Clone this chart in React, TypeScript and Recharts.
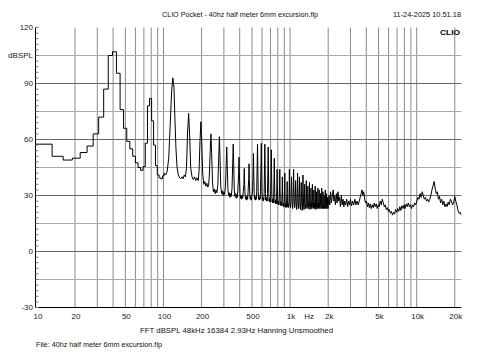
import React from 'react';
import { LineChart, Line, XAxis, YAxis, ReferenceLine } from 'recharts';

// FFT bin edges (Hz) and levels (dBSPL) for the stepped low end
const lowEdges = [9.75, 13.19, 16.12, 19.05, 21.98, 24.91, 27.84, 30.77, 33.7, 36.63, 39.56, 42.49, 45.42, 48.35, 51.28, 54.21, 57.14, 60.07, 63.0, 65.93, 68.86, 71.79, 74.72, 77.65, 80.58, 83.51, 86.44, 89.37, 92.3, 95.23, 98.16, 101.09];
const lowLevels = [57.5, 51, 49, 50, 53, 56.5, 63, 72, 87, 105, 107, 95.5, 76, 66, 59, 55, 51, 47.5, 45, 43.5, 45.5, 58, 78, 82, 70, 57, 46, 41, 39.5, 39, 40.5, 42];

// [Hz, dBSPL] 100 - 500 Hz, harmonics of ~39.5 Hz
const bandA = [
  [101.09, 42], [104, 41], [107, 43], [110, 50], [113, 68], [116, 86], [118.5, 93], [121, 88], [123, 72], [125.5, 55], [128, 45], [131, 41], [134, 39.5], [137, 39], [140, 40], [143, 39], [146, 41], [149, 40], [152, 45],
  [155, 64], [158, 74], [161, 62], [164, 45], [168, 40], [172, 38.5], [176, 40], [180, 38], [184, 39.5], [188, 38], [191, 43],
  [194.5, 60], [197.5, 69.5], [200.5, 59], [204, 42], [208, 36], [212, 37.5], [216, 35], [220, 36.5], [224, 34.5], [227, 35.5], [230, 40],
  [234, 54], [237, 63], [240, 53], [244, 37], [248, 32], [252, 33.5], [256, 31], [260, 33], [264, 31.5], [269, 36],
  [273.5, 52], [276.5, 61.5], [279.5, 51], [283.5, 35], [288, 31], [292, 32.5], [296, 30], [300, 32], [304, 30.5], [309, 35],
  [313, 47], [316, 56], [319, 46], [323, 33], [327, 30], [331, 31.5], [335, 29], [339, 31], [343, 29.5], [348, 34],
  [352.5, 48], [355.5, 57.5], [358.5, 47], [362.5, 33], [367, 29.5], [371, 31], [375, 28.5], [379, 30.5], [383, 29], [387, 33],
  [392, 41], [395, 50.5], [398, 41], [402, 31], [406, 28.5], [410, 30], [414, 28], [418, 30], [422, 28.5], [427, 32],
  [431.5, 36], [434.5, 44.5], [437.5, 36], [441.5, 30], [446, 28], [450, 29.5], [454, 27.5], [458, 29.5], [462, 28], [466, 32],
  [471, 39], [474, 47], [477, 38], [481, 30], [485, 28], [489, 29.5], [493, 27.5], [497, 29],
];

// 500 Hz - 1 kHz
const bandB = [
  [505, 32], [510.5, 43], [513.5, 52.5], [516.5, 42], [520.5, 31], [525, 28], [529, 29.5], [533, 27.5], [537, 29], [541, 28], [545, 32],
  [550, 48], [553, 57.5], [556, 47], [560, 32], [564, 28], [568, 29.5], [572, 27.5], [576, 29], [580, 28], [584, 32],
  [589.5, 49], [592.5, 58], [595.5, 48], [599.5, 32], [604, 28], [608, 29], [612, 27], [616, 28.5], [620, 27.5], [624, 31],
  [629, 48], [632, 57.5], [635, 47], [639, 31], [643, 27.5], [647, 29], [651, 27], [655, 28.5], [659, 27], [663, 31],
  [668.5, 46], [671.5, 56], [674.5, 45], [678.5, 31], [683, 27], [687, 28.5], [691, 26.5], [695, 28], [699, 26.5], [703, 30],
  [708, 45], [711, 54.5], [714, 44], [718, 30], [722, 26.5], [726, 28], [730, 26], [734, 27.5], [738, 26], [742, 29.5],
  [747.5, 41], [750.5, 50], [753.5, 40], [757.5, 29], [762, 26], [766, 27.5], [770, 25.5], [774, 27], [778, 25.5], [782, 29],
  [787, 36], [790, 44], [793, 35], [797, 28], [801, 25.5], [805, 27], [809, 25], [813, 26.5], [817, 25], [821, 28.5],
  [826.5, 36], [829.5, 44], [832.5, 35], [836.5, 27.5], [841, 25], [845, 26.5], [849, 24.5], [853, 26], [857, 24.5], [861, 28],
  [866, 33], [869, 40], [872, 32], [876, 27], [880, 24.5], [884, 26], [888, 24], [892, 25.5], [896, 24], [900, 28],
  [905.5, 34], [908.5, 42], [911.5, 33], [915.5, 26.5], [920, 24], [924, 25.5], [928, 23.5], [932, 25], [936, 24], [940, 27.5],
  [945, 31], [948, 37.5], [951, 30.5], [955, 26], [959, 24], [963, 25.5], [967, 23.5], [971, 25], [975, 24], [979, 27],
  [984.5, 35], [987.5, 44], [990.5, 34], [994.5, 26],
];

// 1 kHz - 2 kHz
const bandC = [
  [1000, 25], [1008, 23.5], [1016, 26], [1023, 35], [1027, 40], [1031, 34], [1040, 25], [1048, 23], [1056, 27], [1063, 38], [1066.5, 44], [1070, 37], [1080, 26], [1088, 23.5], [1096, 26], [1103, 33], [1106, 38], [1110, 33], [1120, 25], [1128, 22.5], [1136, 26], [1142, 36], [1145.5, 42], [1149, 36], [1160, 25], [1168, 23], [1176, 27], [1182, 35], [1185, 40], [1189, 34], [1200, 24], [1208, 22.5], [1216, 26], [1221, 32], [1224.5, 37], [1228, 32], [1240, 24], [1248, 22], [1256, 26], [1261, 35], [1264, 41], [1268, 34], [1280, 24], [1288, 22.5], [1296, 25.5], [1300, 31], [1303.5, 36], [1307, 31], [1320, 23], [1328, 25], [1336, 24], [1340, 33], [1343, 38], [1347, 32], [1360, 23], [1368, 25], [1375, 25], [1379, 31], [1382.5, 35], [1386, 30], [1400, 23], [1408, 26], [1414, 24], [1419, 32], [1422, 37], [1426, 31], [1440, 22.5], [1448, 25.5], [1454, 24], [1458, 30], [1461.5, 34], [1465, 29], [1480, 23], [1488, 26], [1494, 24], [1498, 31], [1501, 36], [1505, 30], [1520, 23], [1528, 26], [1534, 23.5], [1537, 29], [1540.5, 33], [1544, 28], [1560, 23], [1568, 26], [1574, 24], [1577, 30], [1580, 35], [1584, 29], [1600, 22.5], [1608, 25.5], [1614, 23.5], [1617, 28], [1619.5, 32], [1623, 27], [1640, 23], [1648, 25], [1654, 24], [1656, 29], [1659, 34], [1663, 28], [1680, 23], [1688, 26], [1694, 24], [1696, 29], [1698.5, 33], [1702, 27], [1720, 23], [1728, 25], [1735, 25], [1738, 31], [1742, 27], [1758, 23], [1768, 26], [1775, 26], [1777.5, 34], [1781, 28], [1798, 23], [1808, 25], [1814, 25], [1817, 32], [1821, 27], [1838, 23], [1848, 24.5], [1854, 25], [1856.5, 30], [1860, 26], [1878, 23], [1888, 25], [1893, 26], [1896, 33], [1900, 27], [1918, 23], [1928, 25], [1933, 26], [1935.5, 31], [1939, 26], [1958, 23], [1968, 25], [1972, 25], [1975, 29], [1979, 25], [1995, 23],
];

// 2 kHz - 22.5 kHz
const bandD = [
  [2000, 24], [2030, 30], [2060, 25], [2090, 32], [2120, 26], [2150, 29], [2190, 33], [2220, 27], [2250, 30], [2280, 25], [2320, 31], [2350, 26], [2390, 32], [2420, 27], [2460, 29], [2500, 24], [2540, 30], [2580, 25], [2620, 28], [2660, 24], [2700, 27], [2750, 25], [2800, 28], [2850, 24], [2900, 27], [2950, 25], [3000, 28], [3060, 24.5], [3120, 27], [3180, 25], [3250, 28], [3310, 25], [3380, 27], [3450, 25], [3520, 27], [3580, 29], [3640, 31], [3700, 33], [3760, 30], [3820, 32], [3880, 28], [3950, 26], [4020, 27], [4090, 24], [4160, 26], [4230, 23.5], [4300, 25.5], [4380, 23], [4460, 25], [4540, 23.5], [4620, 26], [4700, 24], [4790, 25.5], [4880, 23], [4970, 25], [5060, 24], [5150, 27], [5250, 25], [5350, 28], [5450, 26], [5550, 24], [5650, 25], [5750, 22.5], [5860, 23.5], [5970, 21.5], [6080, 22.5], [6200, 20.5], [6320, 21.5], [6440, 19.5], [6560, 21], [6690, 20], [6820, 22.5], [6950, 21], [7080, 23], [7220, 21.5], [7360, 24], [7500, 22], [7650, 24.5], [7800, 23], [7950, 25], [8100, 23], [8260, 25.5], [8420, 24], [8590, 26], [8760, 24], [8930, 25], [9100, 23], [9280, 25], [9460, 24], [9650, 26], [9840, 25], [10030, 27], [10230, 29], [10430, 28], [10640, 31], [10850, 29], [11060, 32], [11280, 30], [11500, 28], [11730, 29], [11960, 27], [12200, 28], [12440, 26.5], [12690, 28], [12940, 30], [13200, 33], [13460, 35], [13730, 37.5], [14000, 34], [14280, 31], [14560, 32], [14850, 28], [15150, 29.5], [15450, 26], [15760, 28], [16070, 25], [16390, 27], [16720, 24], [17050, 25.5], [17390, 24], [17740, 26.5], [18090, 25], [18450, 28], [18820, 27], [19200, 25], [19580, 26], [19970, 29.5], [20370, 27], [20780, 25], [21190, 22], [21620, 20.5], [22050, 21], [22500, 19.5],
];

const xTicks = [10, 20, 30, 40, 50, 60, 70, 80, 90, 100, 200, 300, 400, 500, 600, 700, 800, 900, 1000, 2000, 3000, 4000, 5000, 6000, 7000, 8000, 9000, 10000, 20000];
const xLabels: Record<number, string> = { 10: '10', 20: '20', 50: '50', 100: '100', 200: '200', 500: '500', 1000: '1k', 2000: '2k', 5000: '5k', 10000: '10k', 20000: '20k' };
const yTicks = [-30, -27, -24, -21, -18, -15, -12, -9, -6, -3, 0, 3, 6, 9, 12, 15, 18, 21, 24, 27, 30, 33, 36, 39, 42, 45, 48, 51, 54, 57, 60, 63, 66, 69, 72, 75, 78, 81, 84, 87, 90, 93, 96, 99, 102, 105, 108, 111, 114, 117, 120];
const yMajor = [90, 60, 30, 0];
const yMinor = [105, 75, 45, 15, -15];

const rows: { f: number; lo?: number; hi?: number }[] = [
  ...lowEdges.map((f, i) => ({ f, lo: lowLevels[i] })),
  ...[...bandA, ...bandB, ...bandC, ...bandD].map(([f, v]) => ({ f, hi: v })),
];

const FONT = '"Liberation Sans", Arial, sans-serif';

const XTick = (props: any) => {
  const { x, y, payload } = props;
  const label = xLabels[payload.value];
  if (!label) return <g />;
  return (
    <g fontFamily={FONT} fontSize={8} fill="#222">
      <text x={x + 1} y={y} textAnchor="middle" dominantBaseline="central">{label}</text>
      {payload.value === 1000 && (
        <text x={x + 19} y={y} textAnchor="middle" dominantBaseline="central">Hz</text>
      )}
    </g>
  );
};

const LeftTick = (props: any) => {
  const { x, y, payload } = props;
  const v = payload.value;
  const label = v % 30 === 0 ? String(v) : v === 105 ? 'dBSPL' : null;
  return (
    <g>
      <line x1={x + 3} x2={x + 6} y1={y} y2={y} stroke="#777" />
      {label && (
        <text x={x + 0.5} y={y} textAnchor="end" dominantBaseline="central" fontFamily={FONT} fontSize={8} fill="#222">
          {label}
        </text>
      )}
    </g>
  );
};

const RightTick = (props: any) => {
  const { x, y } = props;
  return <line x1={x - 3} x2={x} y1={y} y2={y} stroke="#777" />;
};

export default function App() {
  return (
    <div style={{ position: 'absolute', left: 0, top: 0, width: 480, height: 360, background: '#fff' }}>
      <LineChart width={480} height={360} data={rows} margin={{ top: 27.5, right: 18.5, left: 0, bottom: 0 }}>
        <XAxis
          dataKey="f"
          type="number"
          scale="log"
          domain={[9.75, 22600]}
          allowDataOverflow
          ticks={xTicks}
          interval={0}
          height={52.5}
          tickSize={0}
          tickMargin={9}
          tickLine={false}
          axisLine={{ stroke: '#000' }}
          tick={<XTick />}
        />
        <XAxis
          xAxisId="t"
          orientation="top"
          dataKey="f"
          type="number"
          scale="log"
          domain={[9.75, 22600]}
          allowDataOverflow
          height={0}
          tick={false}
          tickLine={false}
          axisLine={{ stroke: '#000' }}
        />
        <YAxis
          type="number"
          domain={[-30, 120]}
          allowDataOverflow
          ticks={yTicks}
          interval={0}
          width={35.5}
          tickSize={0}
          tickMargin={3}
          tickLine={false}
          axisLine={{ stroke: '#000' }}
          tick={<LeftTick />}
        />
        <YAxis
          yAxisId="r"
          orientation="right"
          type="number"
          domain={[-30, 120]}
          allowDataOverflow
          ticks={yTicks}
          interval={0}
          width={0}
          tickSize={0}
          tickMargin={0}
          tickLine={false}
          axisLine={{ stroke: '#000' }}
          tick={<RightTick />}
        />
        {xTicks.slice(1).map((v) => (
          <ReferenceLine key={'x' + v} x={v} stroke="#8a8a8a" strokeWidth={1} />
        ))}
        {yMinor.map((v) => (
          <ReferenceLine key={'m' + v} y={v} stroke="#aaaaaa" strokeWidth={1} />
        ))}
        {yMajor.map((v) => (
          <ReferenceLine key={'M' + v} y={v} stroke="#6a6a6a" strokeWidth={1} />
        ))}
        <Line dataKey="lo" type="stepAfter" stroke="#000" strokeWidth={1} dot={false} activeDot={false} isAnimationActive={false} />
        <Line dataKey="hi" type="linear" stroke="#000" strokeWidth={1} dot={false} activeDot={false} isAnimationActive={false} />
      </LineChart>
      <svg width={480} height={360} style={{ position: 'absolute', left: 0, top: 0, pointerEvents: 'none' }}>
        <g fontFamily={FONT} fontSize={8} fill="#111" style={{ whiteSpace: 'pre' }}>
          <text x={162} y={16.5} textLength={156} lengthAdjust="spacingAndGlyphs">CLIO Pocket - 40hz half meter 6mm excursion.flp</text>
          <text x={393} y={16.5} textLength={68} lengthAdjust="spacingAndGlyphs">11-24-2025 10.51.18</text>
          <text x={440} y={34.5} textLength={20} lengthAdjust="spacingAndGlyphs" fontWeight="bold" fill="#000">CLIO</text>
          <text x={140} y={332.5} textLength={193} lengthAdjust="spacingAndGlyphs">FFT  dBSPL  48kHz   16384  2.93Hz  Hanning  Unsmoothed</text>
          <text x={36} y={347} textLength={126} lengthAdjust="spacingAndGlyphs">File: 40hz half meter 6mm excursion.flp</text>
        </g>
      </svg>
    </div>
  );
}
